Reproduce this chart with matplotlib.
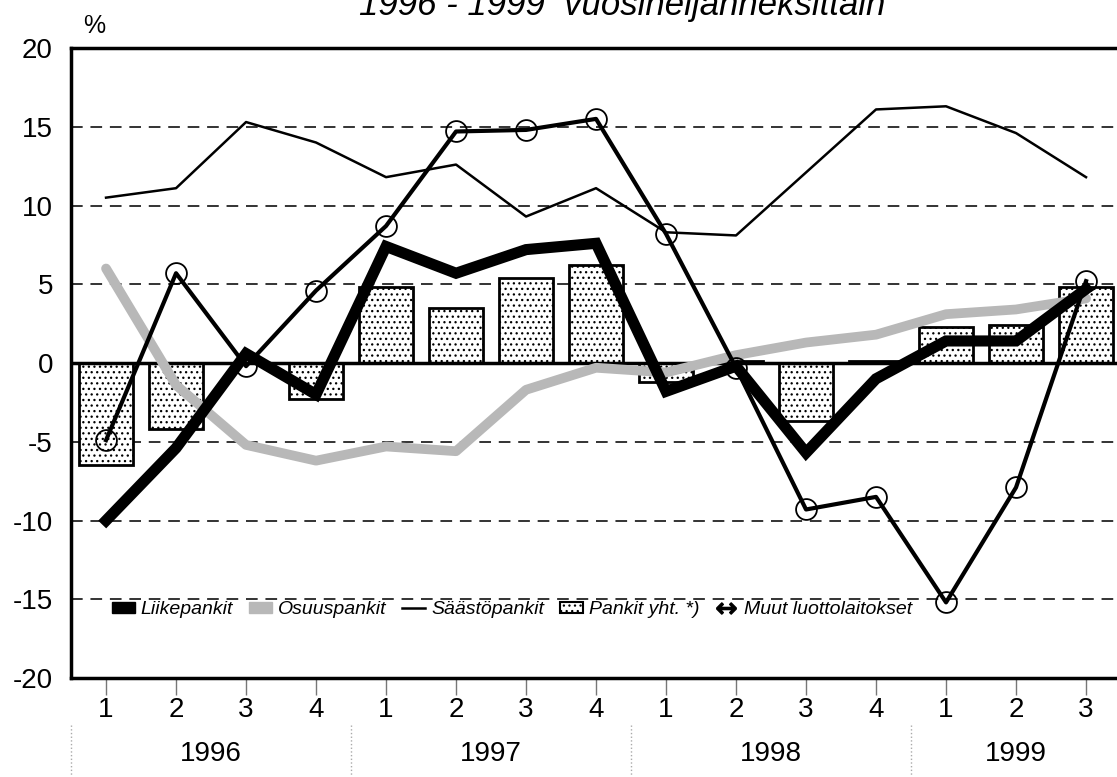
import matplotlib
matplotlib.use("Agg")
import matplotlib.pyplot as plt
import numpy as np
from matplotlib.patches import Patch
from matplotlib.lines import Line2D

plt.rcParams['font.family'] = ['Liberation Sans', 'DejaVu Sans']
plt.rcParams['hatch.color'] = '#8a8a8a'
plt.rcParams['hatch.linewidth'] = 0.9

# quarters 1996 Q1 .. 1999 Q3
quarters = ["1", "2", "3", "4", "1", "2", "3", "4", "1", "2", "3", "4", "1", "2", "3"]
years = ["1996", "1997", "1998", "1999"]

liikepankit = [-10.0, -5.4, 0.6, -2.0, 7.4, 5.7, 7.2, 7.6, -1.8, -0.2, -5.7, -1.0, 1.4, 1.4, 4.7]
osuuspankit = [6.0, -1.4, -5.2, -6.2, -5.3, -5.6, -1.7, -0.3, -0.6, 0.5, 1.3, 1.8, 3.1, 3.4, 4.1]
saastopankit = [10.5, 11.1, 15.3, 14.0, 11.8, 12.6, 9.3, 11.1, 8.3, 8.1, 12.1, 16.1, 16.3, 14.6, 11.8]
pankit_yht = [-6.5, -4.2, 0.0, -2.3, 4.8, 3.5, 5.4, 6.2, -1.2, 0.1, -3.7, 0.1, 2.3, 2.4, 4.8]
muut = [-4.9, 5.7, -0.2, 4.6, 8.7, 14.7, 14.8, 15.5, 8.2, -0.3, -9.3, -8.5, -15.2, -7.9, 5.2]

x = np.arange(1, len(quarters) + 1)

fig = plt.figure(figsize=(11.17, 7.77), dpi=100)
ax = fig.add_axes([0.0636, 0.1274, 0.940, 0.8108])

# gridlines
for yv in [-15, -10, -5, 5, 10, 15]:
    ax.axhline(yv, color='#333333', lw=1.4, ls=(0, (6, 4)), zorder=1)

# bars
ax.bar(x, pankit_yht, width=0.76, facecolor='white', edgecolor='black',
       linewidth=2.0, hatch='...', zorder=2)
ax.axhline(0, color='black', lw=2.5, zorder=3)

# lines
ax.plot(x, osuuspankit, color='#b8b8b8', lw=7, solid_capstyle='round', zorder=4)
ax.plot(x, saastopankit, color='black', lw=1.8, zorder=5)
ax.plot(x, liikepankit, color='black', lw=8, solid_joinstyle='miter', zorder=6)
ax.plot(x, muut, color='black', lw=3, marker='o', markersize=15,
        markerfacecolor='none', markeredgewidth=1.3, zorder=7)

ax.set_xlim(0.5, 15.5)
ax.set_ylim(-20, 20)
ax.set_yticks([-20, -15, -10, -5, 0, 5, 10, 15, 20])
ax.set_yticklabels(["-20", "-15", "-10", "-5", "0", "5", "10", "15", "20"], fontsize=20)
ax.tick_params(axis='y', length=0, pad=13)
ax.set_xticks(x)
ax.set_xticklabels(quarters, fontsize=20)
ax.tick_params(axis='x', length=12, width=1, color='#777777', pad=2)

for s in ['left', 'top', 'bottom']:
    ax.spines[s].set_linewidth(2.5)
ax.spines['right'].set_visible(False)

# year labels and separators below the axis
for i, yr in enumerate(years):
    start = 0.5 + 4 * i
    end = min(start + 4, 15.5)
    ax.text((start + end) / 2, -24.8, yr, ha='center', va='center', fontsize=20)
    ax.plot([start, start], [-23.0, -26.5], color='#aaaaaa', lw=1, ls=':',
            clip_on=False)

# '%' label and title (title runs off the top edge as in the source)
fig.text(0.074, 0.966, "%", fontsize=18, ha='left', va='center')
fig.text(0.557, 0.981, "1996 - 1999  vuosineljänneksittäin", fontsize=25,
         style='italic', ha='center', va='baseline')

handles = [
    Patch(facecolor='black', edgecolor='black'),
    Patch(facecolor='#b8b8b8', edgecolor='#b8b8b8'),
    Line2D([0], [0], color='black', lw=1.8),
    Patch(facecolor='white', edgecolor='black', hatch='...', linewidth=1.5),
    Line2D([0], [0], color='black', lw=0, marker=r'$\leftrightarrow$', markersize=14),
]
labels = ["Liikepankit", "Osuuspankit", "Säästöpankit", "Pankit yht. *)", "Muut luottolaitokset"]
leg = ax.legend(handles, labels, loc='center left', bbox_to_anchor=(0.022, 0.108),
                ncol=5, frameon=False, prop={'size': 14, 'style': 'italic'},
                handlelength=1.2, handleheight=0.55, handletextpad=0.3,
                columnspacing=0.8)

fig.savefig("out.png", dpi=100)
